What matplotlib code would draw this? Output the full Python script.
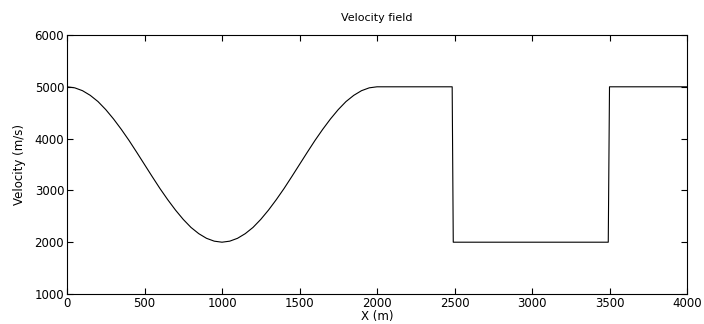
import matplotlib
matplotlib.use("Agg")
from matplotlib import pyplot as plt

# positions along the profile (m) and velocity (m/s)
X_POS = [0, 50, 100, 150, 200, 250, 300, 350, 400, 450, 500, 550, 600, 650, 700,
         750, 800, 850, 900, 950, 1000, 1050, 1100, 1150, 1200, 1250, 1300, 1350,
         1400, 1450, 1500, 1550, 1600, 1650, 1700, 1750, 1800, 1850, 1900, 1950,
         2000, 2485, 2492, 3492, 3500, 4000]
VELOCITY = [5000, 4980, 4925, 4835, 4715, 4560, 4380, 4180, 3965, 3735, 3500,
            3265, 3035, 2820, 2620, 2440, 2285, 2165, 2075, 2020, 2000, 2020,
            2075, 2165, 2285, 2440, 2620, 2820, 3035, 3265, 3500, 3735, 3965,
            4180, 4380, 4560, 4715, 4835, 4925, 4980, 5000, 5000, 2000, 2000,
            5000, 5000]

XTICKS = [0, 500, 1000, 1500, 2000, 2500, 3000, 3500, 4000]
YTICKS = [1000, 2000, 3000, 4000, 5000, 6000]

plt.rcParams['font.family'] = 'DejaVu Sans'
plt.rcParams['font.size'] = 8

fig = plt.figure(figsize=(7.04, 3.24), dpi=100)
ax = fig.add_axes([67/704, 1 - 294/324, 620/704, 259/324])

ax.plot(X_POS, VELOCITY, color='black', linewidth=0.8)

ax.set_xlim(0, 4000)
ax.set_ylim(1000, 6000)
ax.set_xticks(XTICKS)
ax.set_yticks(YTICKS)
ax.tick_params(direction='in', length=4, width=0.8, top=True, right=True, pad=2,
               labelsize=8.5)
for s in ax.spines.values():
    s.set_linewidth(0.8)

ax.set_title("Velocity field", fontsize=8, pad=10)
ax.set_xlabel("X (m)", fontsize=8.5, labelpad=0)
ax.set_ylabel("Velocity (m/s)", fontsize=8.5, labelpad=6)

fig.savefig("out.png", dpi=100)
